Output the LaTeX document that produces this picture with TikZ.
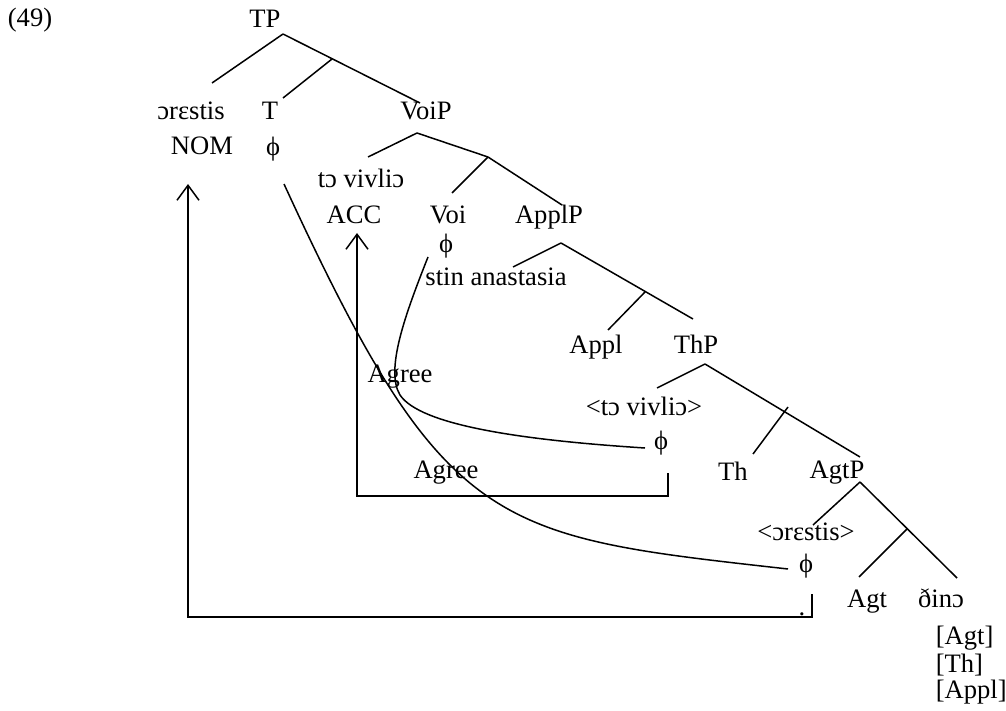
\documentclass[tikz,border=0pt]{standalone}
\usepackage{fontspec}
\setmainfont{Liberation Serif}
\usetikzlibrary{arrows.meta}

\tikzset{
    lbl/.style={anchor=base, inner sep=0pt, font=\fontsize{26.6}{32}\selectfont},
    lblw/.style={lbl, anchor=base west},
    agree/.style={-{Straight Barb[length=15pt,width=22pt]}}
}

\begin{document}
\begin{tikzpicture}[x=1pt, y=-1pt, line width=1.5pt]
    \useasboundingbox (0,0) rectangle (1006,711);

    % labels
    \node[lbl] (ex) at (30,27) {(49)};
    \node[lbl] (TP) at (265,28) {TP};
    \node[lbl] (orestis) at (191,120) {ɔrɛstis};
    \node[lbl] (T) at (270,120) {T};
    \node[lbl] (VoiP) at (426,120) {VoiP};
    \node[lbl] (nom) at (202,155) {NOM};
    \node[lbl] (phiT) at (273,156) {ϕ};
    \node[lbl] (tovivlio) at (361,188) {tɔ vivliɔ};
    \node[lbl] (acc) at (354,224) {ACC};
    \node[lbl] (Voi) at (448,224) {Voi};
    \node[lbl] (ApplP) at (549,224) {ApplP};
    \node[lbl] (phiV) at (446,253) {ϕ};
    \node[lbl] (stin) at (496,285) {stin anastasia};
    \node[lbl] (Appl) at (596,353) {Appl};
    \node[lbl] (ThP) at (696,353) {ThP};
    \node[lbl] (tvlow) at (644,415) {<tɔ vivliɔ>};
    \node[lbl] (phiTh) at (661,449) {ϕ};
    \node[lbl] (Th) at (733,480) {Th};
    \node[lbl] (AgtP) at (837,478) {AgtP};
    \node[lbl] (orlow) at (806,540) {<ɔrɛstis>};
    \node[lbl] (phiAgt) at (806,572) {ϕ};
    \node[lbl] (Agt) at (867,607) {Agt};
    \node[lbl] (dino) at (941,607) {ðinɔ};
    \node[lblw] (fAgt) at (935,644) {[Agt]};
    \node[lblw] (fTh) at (935,672) {[Th]};
    \node[lblw] (fAppl) at (935,698) {[Appl]};
    \node[lbl] (agree1) at (400,382) {Agree};
    \node[lbl] (agree2) at (446,478) {Agree};
    \node[lbl] (dot) at (802,615) {.};

    % branch points and branch ends
    \foreach \n/\x/\y in {tp/283/34, tpm/332/59, voip/417/133, voim/488/157,
        applp/561/243, applm/645/292, thp/705/364, ths/788/407,
        agtp/860/482, agtm/907/529,
        orestis-e/212/83, t-e/283/98, voip-e/420/103,
        tovivlio-e/368/157, voi-e/452/193, applp-e/562/205,
        stin-e/513/267, appl-e/608/330, thp-e/693/319,
        tvlow-e/657/388, th-e/753/454, agtp-e/860/457,
        orlow-e/813/525, agt-e/859/577, dino-e/957/578}
        \coordinate (\n) at (\x,\y);

    \foreach \a/\b in {tp/orestis-e, tp/voip-e, tpm/t-e,
        voip/tovivlio-e, voip/voim, voim/voi-e, voim/applp-e,
        applp/stin-e, applp/thp-e, applm/appl-e,
        thp/tvlow-e, thp/agtp-e, ths/th-e,
        agtp/orlow-e, agtp/dino-e, agtm/agt-e}
        \draw (\a) -- (\b);

    % Agree arrows
    \coordinate (phiAgt-d) at (812,594);
    \coordinate (nom-u) at (188,184);
    \coordinate (phiTh-d) at (668,473);
    \coordinate (acc-u) at (357,233);
    \draw[agree] (phiAgt-d) -- ++(0,23) -| (nom-u);
    \draw[agree] (phiTh-d) -- ++(0,23) -| (acc-u);

    % curves
    \coordinate (phiT-c) at (284,184);
    \coordinate (phiAgt-c) at (788,569);
    \coordinate (phiV-c) at (428,257);
    \coordinate (bend) at (400,395);
    \coordinate (phiTh-c) at (645,448);
    \draw (phiT-c) .. controls (445,534) and (494,536) .. (phiAgt-c);
    \draw (phiV-c) .. controls (405,315) and (385,370) .. (bend)
        .. controls (420,425) and (520,440) .. (phiTh-c);
\end{tikzpicture}
\end{document}
